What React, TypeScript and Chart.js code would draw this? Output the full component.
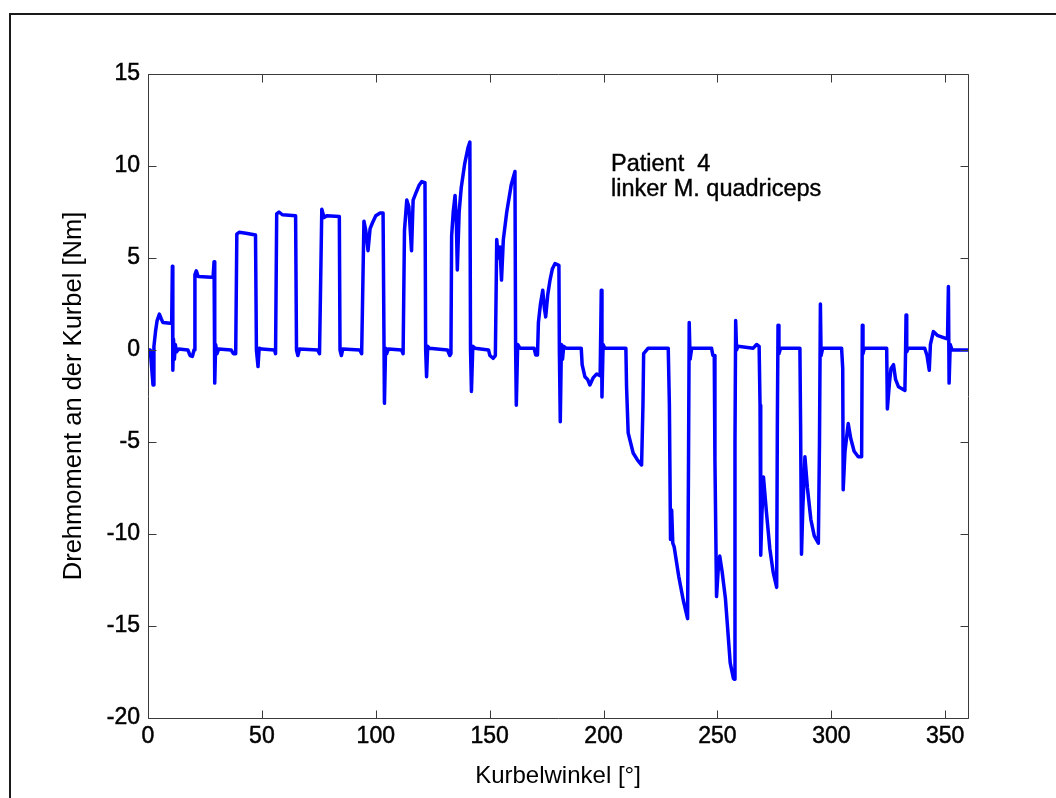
import React, { useEffect, useRef } from "react";
import { Chart, registerables } from "chart.js";

Chart.register(...registerables);

// Kurbelwinkel [°]
const kurbelwinkel: number[] = [
  0, 1.0, 2.2, 2.6, 3.3, 4.0, 5.0, 5.8, 6.5, 9.8, 10.4, 10.7, 10.9, 11.2, 11.6, 12.0, 12.5, 13.5, 17.5, 18.5, 19.5, 20.2,
  20.6, 21.2, 22.0, 27.8, 28.6, 29.0, 29.3, 29.7, 30.3, 31.0, 36.5, 37.5, 38.5, 39.0, 40.0, 43.0, 47.2, 47.6, 48.3, 48.8,
  50.0, 55.5, 56.0, 56.5, 57.5, 59.0, 64.8, 65.2, 65.8, 66.5, 74.5, 75.3, 76.3, 77.3, 78.5, 84.0, 84.3, 84.9, 85.5,
  93.0, 93.8, 94.8, 95.6, 96.6, 97.5, 98.5, 100.0, 101.9, 103.2, 103.8, 104.3, 104.8, 105.5, 111.3, 112.0, 112.6,
  113.6, 114.5, 115.7, 116.4, 117.5, 119.0, 120.2, 121.6, 121.9, 122.3, 122.8, 123.5, 131.5, 132.5, 133.0, 133.3,
  134.0, 134.8, 135.4, 135.8, 136.6, 137.5, 139.0, 140.5, 141.3, 141.6, 142.0, 142.6, 143.5, 149.5, 150.1, 151.5,
  152.5, 153.1, 153.8, 154.5, 155.2, 156.0, 157.5, 159.5, 161.1, 161.4, 161.7, 162.3, 163.3, 169.5, 170.2, 171.0,
  171.4, 172.3, 173.3, 174.0, 174.6, 175.5, 176.5, 177.5, 178.7, 180.4, 180.6, 181.0, 181.5, 182.0, 182.5, 183.5,
  190.2, 190.6, 191.8, 193.0, 194.0, 195.5, 197.0, 198.5, 199.0, 199.3, 199.8, 200.6, 209.8, 210.1, 210.8, 213.0,
  215.0, 216.7, 217.3, 217.6, 219.6, 228.4, 228.9, 229.4, 229.9, 230.4, 231.0, 233.0, 235.0, 236.9, 237.3, 237.6,
  238.0, 238.7, 247.4, 248.0, 248.6, 248.9, 249.6, 250.3, 251.0, 252.0, 253.5, 255.6, 257.0, 257.5, 257.7, 258.0,
  258.4, 259.0, 265.7, 267.2, 268.3, 268.7, 269.0, 269.5, 270.2, 271.5, 273.0, 274.5, 276.0, 276.3, 276.6, 277.0,
  277.7, 286.2, 286.5, 286.9, 287.5, 288.4, 289.5, 291.0, 292.5, 294.3, 294.8, 295.2, 295.5, 296.2, 304.5, 305.0,
  305.2, 306.0, 307.4, 308.5, 310.0, 311.8, 313.3, 313.6, 313.9, 314.5, 324.3, 324.6, 325.5, 326.2, 327.3, 328.2,
  329.5, 332.3, 332.6, 332.8, 333.1, 333.8, 341.0, 342.0, 343.0, 343.5, 344.8, 346.5, 349.9, 351.0, 351.4, 351.7,
  352.2, 353.0, 360.0,
];

// Drehmoment an der Kurbel [Nm]
const drehmoment: number[] = [
  0, 0, -1.9, 0.2, 1.0, 1.6, 1.95, 1.7, 1.5, 1.45, 1.5, 4.55, -1.1, 0.6, -0.5, 0.3, -0.1, 0.05, 0.0, -0.3, -0.35, 0,
  4.1, 4.3, 4.0, 3.95, 4.0, 4.8, -1.8, 0.3, -0.2, 0.05, 0, -0.2, -0.2, 6.3, 6.4, 6.35, 6.25, 0, -0.9, 0.1,
  0.05, 0, -0.2, 7.4, 7.5, 7.35, 7.3, 0, -0.3, 0.05, 0, -0.2, 7.65, 7.2, 7.3, 7.25, 0, -0.3, 0.05,
  0, -0.2, 7.0, 6.5, 5.4, 6.6, 6.9, 7.3, 7.45, 7.45, -2.9, 0.1, -0.2, 0.05, 0, -0.2, 6.5,
  8.15, 7.8, 5.4, 8.15, 8.5, 8.95, 9.15, 9.1, 0, -1.45, 0.2, 0.1, 0, -0.3, -0.2, 6.2,
  7.5, 8.4, 6.8, 4.35, 7.5, 8.8, 10.1, 11.0, 11.3, 0, -2.25, 0.2, 0.1, 0, -0.3, -0.45,
  -0.3, 6.0, 5.0, 5.6, 3.8, 6.0, 7.5, 9.0, 9.7, 0, -3.0, 0.3, 0.1, 0.1, -0.27, -0.27,
  1.5, 2.5, 3.25, 2.3, 1.8, 3.0, 3.8, 4.4, 4.7, 4.6, 0, -3.9, 0.3, -0.5, 0.2, 0.1,
  0.1, -0.8, -1.45, -1.6, -1.9, -1.5, -1.3, -1.4, 3.25, -2.55, 0.3, 0.1, 0.1, -2.0, -4.5, -5.6,
  -6.0, -6.25, -3.0, -0.2, 0.1, 0.1, -3.0, -10.3, -8.7, -10.5, -10.7, -12.3, -13.6, -14.6, -6.0, 1.5,
  -0.5, 0.1, 0.1, -0.3, -0.3, -6.0, -13.4, -12.0, -11.2, -12.0, -13.5, -17.0, -17.85, -17.9, -5.0, 1.6,
  0.0, 0.2, 0.1, 0.3, 0.2, -3.0, -11.15, -9.0, -6.9, -8.8, -10.8, -12.1, -12.9, -4.0, 1.35, -0.2,
  0.1, 0.1, -4.0, -11.1, -8.5, -5.8, -7.5, -9.2, -10.1, -10.5, -5.0, 2.5, -0.3, 0.1, 0.1, -1.0,
  -7.6, -5.5, -4.0, -4.8, -5.5, -5.8, -5.8, 1.35, -0.2, 0.1, 0.1, -3.2, -1.8, -1.0, -0.8, -1.6,
  -2.0, -2.2, 0, 1.9, -0.1, 0.1, 0.1, -0.3, -1.1, 0.3, 1.0, 0.8, 0.65, 0.6, 3.45, -1.8,
  0.3, 0.0, 0.0,
];

// Tick labels
const xTickValues = [0, 50, 100, 150, 200, 250, 300, 350];
const yTickValues = [-20, -15, -10, -5, 0, 5, 10, 15];
const xRange = [0, 360];
const yRange = [-20, 15];

const annotationLines = ["Patient  4", "linker M. quadriceps"];

const FONT = "'Liberation Sans', Arial, Helvetica, sans-serif";

const matlabBox = {
  id: "matlabBox",
  afterDatasetsDraw(chart: any) {
    const { ctx, chartArea, scales } = chart;
    const { left, right, top, bottom } = chartArea;
    const L = Math.round(left) + 0.5;
    const R = Math.round(right) + 0.5;
    const T = Math.round(top) + 0.5;
    const B = Math.round(bottom) + 0.5;
    const tl = 8;
    ctx.save();
    ctx.strokeStyle = "#3a3a3a";
    ctx.lineWidth = 1;
    ctx.beginPath();
    ctx.rect(L, T, R - L, B - T);
    scales.x.ticks.forEach((t: any) => {
      const px = Math.round(scales.x.getPixelForValue(t.value)) + 0.5;
      ctx.moveTo(px, B);
      ctx.lineTo(px, B - tl);
      ctx.moveTo(px, T);
      ctx.lineTo(px, T + tl);
    });
    scales.y.ticks.forEach((t: any) => {
      const py = Math.round(scales.y.getPixelForValue(t.value)) + 0.5;
      ctx.moveTo(L, py);
      ctx.lineTo(L + tl, py);
      ctx.moveTo(R, py);
      ctx.lineTo(R - tl, py);
    });
    ctx.stroke();
    ctx.restore();
  },
};

export default function App() {
  const canvasRef = useRef<HTMLCanvasElement | null>(null);

  useEffect(() => {
    if (!canvasRef.current) return;
    const points = kurbelwinkel.map((x, i) => ({ x, y: drehmoment[i] }));
    const chart = new Chart(canvasRef.current, {
      type: "line",
      data: {
        datasets: [
          {
            data: points,
            borderColor: "#0000ff",
            borderWidth: 3.5,
            pointRadius: 0,
            tension: 0,
            fill: false,
            borderJoinStyle: "round",
          } as any,
        ],
      },
      options: {
        animation: false,
        responsive: false,
        devicePixelRatio: 1,
        layout: { padding: { left: 59, top: 74, right: 88, bottom: 7 } },
        plugins: { legend: { display: false }, tooltip: { enabled: false } },
        scales: {
          x: {
            type: "linear",
            min: xRange[0],
            max: xRange[1],
            afterBuildTicks: (s: any) => {
              s.ticks = xTickValues.map((v) => ({ value: v }));
            },
            afterFit: (s: any) => {
              s.height = 73;
            },
            ticks: {
              color: "#000",
              font: { family: FONT, size: 23 },
              padding: 5,
              maxRotation: 0,
              autoSkip: false,
              textStrokeColor: "#000",
              textStrokeWidth: 0.5,
            },
            grid: { display: false, drawTicks: false },
            border: { display: false },
            title: {
              display: true,
              text: "Kurbelwinkel [°]",
              color: "#000",
              font: { family: FONT, size: 24 },
              padding: 0,
            },
          },
          y: {
            type: "linear",
            min: yRange[0],
            max: yRange[1],
            afterBuildTicks: (s: any) => {
              s.ticks = yTickValues.map((v) => ({ value: v }));
            },
            afterFit: (s: any) => {
              s.width = 89;
            },
            ticks: {
              color: "#000",
              font: { family: FONT, size: 23 },
              padding: 8,
              autoSkip: false,
              textStrokeColor: "#000",
              textStrokeWidth: 0.5,
            },
            grid: { display: false, drawTicks: false },
            border: { display: false },
            title: {
              display: true,
              text: "Drehmoment an der Kurbel [Nm]",
              color: "#000",
              font: { family: FONT, size: 25.5 },
              padding: 0,
            },
          },
        },
      },
      plugins: [matlabBox],
    });
    return () => chart.destroy();
  }, []);

  return (
    <div
      style={{
        position: "fixed",
        left: 0,
        top: 0,
        width: 1056,
        height: 798,
        overflow: "hidden",
        background: "#fff",
      }}
    >
      <div
        style={{
          position: "absolute",
          left: 9,
          top: 13,
          width: 3000,
          height: 3000,
          borderLeft: "2px solid #1a1a1a",
          borderTop: "2px solid #1a1a1a",
        }}
      />
      <canvas
        ref={canvasRef}
        width={1056}
        height={798}
        style={{ position: "absolute", left: 0, top: 0, width: 1056, height: 798 }}
      />
      <div
        style={{
          position: "absolute",
          left: 611,
          top: 151,
          fontFamily: FONT,
          fontSize: 23.5,
          lineHeight: "25px",
          color: "#000",
          whiteSpace: "pre",
          WebkitTextStroke: "0.4px #000",
        }}
      >
        {annotationLines.map((l, i) => (
          <div key={i}>{l}</div>
        ))}
      </div>
    </div>
  );
}
